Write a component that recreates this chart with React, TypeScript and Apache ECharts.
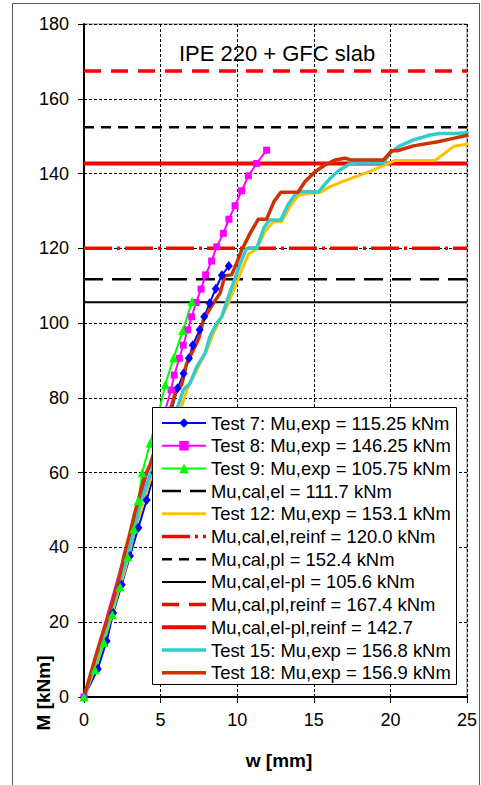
import { useEffect, useRef } from "react";
import * as echarts from "echarts";

// Moment–deflection curves of the tests, [w (mm), M (kNm)]
const test7: [number, number][] = [
  [0, 0], [0.9, 7.5], [1.48, 15], [1.91, 22.5], [2.46, 30], [3.0, 37.7], [3.55, 45.3],
  [4.09, 52.7], [4.6, 60], [5.1, 67.5], [5.6, 75], [6.11, 82.6], [6.5, 86.5], [6.85, 90.6],
  [7.1, 94.1], [7.55, 98.2], [7.85, 101.7], [8.2, 105.3], [8.6, 109.2], [9.0, 112.8], [9.45, 115.25],
];
const test8: [number, number][] = [
  [0, 0], [5.68, 82.1], [5.89, 86.1], [6.22, 90.6],
  [6.48, 94.1], [6.77, 98.2], [7.03, 101.7], [7.31, 105.5], [7.64, 109.1], [7.94, 112.9],
  [8.33, 116.6], [8.66, 120.4], [9.1, 124.0], [9.46, 127.8], [9.86, 131.4], [10.29, 135.4],
  [10.73, 139.4], [11.27, 142.7], [11.92, 146.25],
];
const test9: [number, number][] = [
  [0, 0], [0.72, 7.3], [1.31, 14.6], [1.85, 22], [2.35, 29.5], [2.85, 37.5], [3.25, 45],
  [3.55, 52.5], [3.8, 60], [4.31, 67.9], [4.85, 75.5], [5.3, 83.5], [5.85, 90.7], [6.45, 98],
  [7.05, 105.75],
];
const test12: [number, number][] = [
  [0, 0], [0.45, 5], [0.85, 10.5], [1.3, 16], [1.75, 21.5], [2.2, 28], [2.6, 33], [3.0, 39],
  [3.35, 45.5], [3.8, 51], [4.15, 56], [4.55, 60.5], [5.0, 66], [5.5, 71.5], [5.95, 74.5],
  [6.37, 77.6], [6.7, 82.1], [7.14, 85.7], [7.57, 89.2], [8.12, 93.7], [8.44, 97.3],
  [8.88, 100.8], [9.42, 105.3], [9.86, 109.7], [10.29, 114.2], [10.75, 118.5], [11.27, 119.8],
  [11.81, 124.5], [12.36, 127.1], [12.9, 127.1], [13.5, 131.5], [13.99, 134.2], [14.75, 134.7],
  [15.4, 134.9], [16.06, 136.5], [16.7, 137.6], [18.02, 139.6], [18.88, 140.9], [19.9, 142.8],
  [20.3, 143.5], [22.91, 143.5], [24.15, 147.3], [25.1, 147.9],
];
const test15: [number, number][] = [
  [0, 0], [0.4, 5], [0.8, 10.5], [1.2, 15.5], [1.65, 21], [2.13, 28], [2.5, 33], [2.9, 38.5],
  [3.3, 44.5], [3.66, 51.8], [4.0, 55.5], [4.35, 60], [4.8, 66], [5.3, 71.5], [5.75, 75],
  [6.16, 78.1], [6.48, 82.1], [6.92, 83.9], [7.36, 88.3], [7.9, 91.9], [8.22, 96.4],
  [8.66, 99.9], [8.99, 101.7], [9.35, 106.2], [9.75, 110.8], [10.2, 116], [10.62, 120],
  [11.27, 120], [11.75, 125.5], [12.1, 127.6], [12.85, 127.6], [13.3, 131.5], [13.8, 134.5],
  [14.1, 135.2], [15.3, 135.1], [15.65, 136.8], [16.1, 138.8], [16.6, 140.7], [17.3, 142.5],
  [17.8, 142.8], [19.54, 142.8], [19.97, 145.4], [20.52, 147.2], [21.5, 149], [22.6, 150.3],
  [23.24, 150.7], [24.33, 150.7], [25.1, 151],
];
const test18: [number, number][] = [
  [0, 0], [0.35, 5], [0.7, 10], [1.1, 15.5], [1.5, 20.5], [1.9, 26], [2.25, 31], [2.6, 37.5],
  [2.95, 43], [3.3, 49], [3.6, 53.5], [3.95, 59], [4.3, 62], [4.7, 67], [5.05, 71], [5.4, 75],
  [5.72, 78], [6.05, 82.6], [6.37, 83.4], [6.7, 89.2], [7.14, 92.8], [7.5, 96], [7.79, 100.8],
  [8.1, 103], [8.44, 105.3], [8.88, 108], [9.2, 112.7], [9.64, 112.9], [9.97, 116.2],
  [10.29, 119.5], [10.84, 124], [11.38, 127.8], [11.92, 127.8], [12.4, 132.5], [12.85, 135],
  [13.99, 135.1], [14.42, 137.8], [15.08, 140.5], [15.73, 142.3], [16.38, 143.6], [17.04, 144.1],
  [17.5, 143.6], [19.54, 143.6], [20.08, 146.1], [20.45, 146.1], [21.5, 147.4], [23.1, 148.5],
  [24.1, 149.4], [25.1, 150.3],
];

// Calculated resistances (kNm)
const muCalEl = 111.7;
const muCalElReinf = 120.0;
const muCalPl = 152.4;
const muCalElPl = 105.6;
const muCalPlReinf = 167.4;
const muCalElPlReinf = 142.7;

const xTicks = { min: 0, max: 25, interval: 5 };
const yTicks = { min: 0, max: 180, interval: 20 };

const FONT = "'Liberation Sans', Arial, sans-serif";

function level(name: string, value: number, color: string, width: number, type: any, z = 2) {
  return {
    name,
    type: "line",
    data: [[xTicks.min, value], [xTicks.max, value]],
    symbol: "none",
    z,
    lineStyle: { color, width, type },
    itemStyle: { color, opacity: 0 },
  };
}

function curve(name: string, data: [number, number][], color: string, width: number, symbol = "none", size: any = 0) {
  return {
    name,
    type: "line",
    data,
    symbol,
    symbolSize: size,
    showSymbol: symbol !== "none",
    lineStyle: { color, width },
    itemStyle: { color, opacity: symbol === "none" ? 0 : 1 },
  };
}

export default function App() {
  const ref = useRef<HTMLDivElement>(null);

  useEffect(() => {
    if (!ref.current) return;
    const chart = echarts.init(ref.current, undefined, { renderer: "svg" });

    const series = [
      curve("Test 7: Mu,exp = 115.25 kNm", test7, "#0000FF", 2, "diamond", [8, 10]),
      curve("Test 8: Mu,exp = 146.25 kNm", test8, "#FF00FF", 2, "rect", 7),
      curve("Test 9: Mu,exp = 105.75 kNm", test9, "#00FF00", 2, "triangle", 9),
      level("Mu,cal,el = 111.7 kNm", muCalEl, "#000000", 2.5, [19, 9]),
      curve("Test 12: Mu,exp = 153.1 kNm", test12, "#FFC000", 3),
      level("Mu,cal,el,reinf = 120.0 kNm", muCalElReinf, "#FF0000", 3.5, [28, 5, 3, 5]),
      level("Mu,cal,pl = 152.4 kNm", muCalPl, "#000000", 2.5, [10, 7]),
      level("Mu,cal,el-pl = 105.6 kNm", muCalElPl, "#000000", 2, "solid"),
      level("Mu,cal,pl,reinf = 167.4 kNm", muCalPlReinf, "#FF0000", 3.5, [17, 10]),
      level("Mu,cal,el-pl,reinf = 142.7", muCalElPlReinf, "#FF0000", 4, "solid"),
      curve("Test 15: Mu,exp = 156.8 kNm", test15, "#33CCCC", 3.5),
      curve("Test 18: Mu,exp = 156.9 kNm", test18, "#CC3300", 3.5),
    ];

    chart.setOption({
      animation: false,
      backgroundColor: "#ffffff",
      textStyle: { fontFamily: FONT },
      grid: {
        left: 84, top: 24, width: 383, height: 673,
        show: true, borderColor: "#808080", borderWidth: 1, backgroundColor: "transparent",
      },
      xAxis: {
        type: "value",
        ...xTicks,
        axisLine: { show: true, onZero: false, lineStyle: { color: "#000", width: 2 } },
        axisTick: { show: true, inside: false, length: 6, lineStyle: { color: "#000", width: 1 } },
        axisLabel: { color: "#000", fontSize: 18, fontFamily: FONT, margin: 14 },
        splitLine: { show: true, lineStyle: { color: "#000", width: 1, type: [3, 2] } },
      },
      yAxis: {
        type: "value",
        ...yTicks,
        axisLine: { show: true, onZero: false, lineStyle: { color: "#000", width: 2 } },
        axisTick: { show: true, inside: false, length: 6, lineStyle: { color: "#000", width: 1 } },
        axisLabel: { color: "#000", fontSize: 18, fontFamily: FONT, margin: 15 },
        splitLine: { show: true, lineStyle: { color: "#000", width: 1, type: [3, 2] } },
      },
      legend: {
        orient: "vertical",
        left: 160,
        top: 414,
        itemWidth: 44,
        itemHeight: 12,
        itemGap: 4.7,
        selectedMode: false,
        padding: 0,
        textStyle: { color: "#000", fontSize: 18.4, fontFamily: FONT, lineHeight: 18 },
        lineStyle: { width: "inherit" },
        data: series.map((s) => s.name),
        z: 6,
      },
      graphic: [
        {
          type: "rect",
          shape: { x: 12.5, y: 3.5, width: 467, height: 800 },
          style: { fill: "none", stroke: "#595959", lineWidth: 1 },
          silent: true,
          z: 1,
        },
        {
          type: "rect",
          shape: { x: 152.5, y: 407.5, width: 304, height: 277 },
          style: { fill: "#ffffff", stroke: "#000000", lineWidth: 1 },
          silent: true,
          z: 5,
        },
        {
          type: "text",
          x: 277,
          y: 53,
          style: {
            text: "IPE 220 + GFC slab",
            fill: "#000",
            font: `22px ${FONT}`,
            align: "center",
            verticalAlign: "middle",
          },
          z: 5,
        },
        {
          type: "text",
          x: 43,
          y: 693,
          rotation: Math.PI / 2,
          style: {
            text: "M [kNm]",
            fill: "#000",
            font: `bold 19px ${FONT}`,
            align: "center",
            verticalAlign: "middle",
          },
          z: 5,
        },
        {
          type: "text",
          x: 279,
          y: 760,
          style: {
            text: "w [mm]",
            fill: "#000",
            font: `bold 19px ${FONT}`,
            align: "center",
            verticalAlign: "middle",
          },
          z: 5,
        },
      ],
      series,
    });

    return () => chart.dispose();
  }, []);

  return (
    <div
      ref={ref}
      style={{ position: "absolute", left: 0, top: 0, width: 481, height: 785 }}
    />
  );
}
